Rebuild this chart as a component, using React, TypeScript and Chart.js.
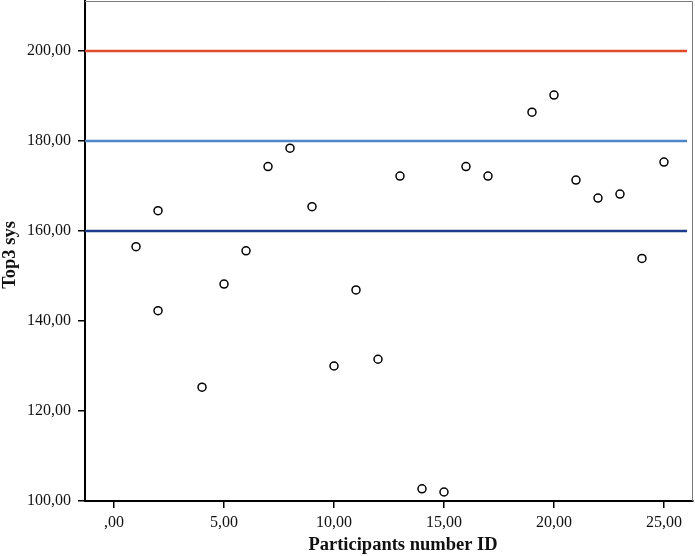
import React, { useEffect, useRef } from "react";
import { Chart, registerables } from "chart.js";

Chart.register(...registerables);

// Participant IDs and their Top3 systolic values
const participantIds = [1, 2, 2, 4, 5, 6, 7, 8, 9, 10, 11, 12, 13, 14, 15, 16, 17, 19, 20, 21, 22, 23, 24, 25];
const top3Sys = [156.5, 164.5, 142.3, 125.3, 148.2, 155.6, 174.3, 178.4, 165.4, 130.0, 146.9, 131.5, 172.2, 102.7, 102.0, 174.3, 172.2, 186.4, 190.2, 171.3, 167.3, 168.2, 153.9, 175.3];

// Reference lines
const refLevels = [200, 180, 160];
const refColors = ["#dd4a2c", "#4f86c9", "#1d3c8c"];

// Axis ticks and titles
const xTickValues = [0, 5, 10, 15, 20, 25];
const yTickValues = [100, 120, 140, 160, 180, 200];
const xTitle = "Participants number ID";
const yTitle = "Top3 sys";

const xMin = -1.32;
const xMax = 26.32;
const refLineEnd = 26.05;
const yMin = 100;
const yMax = 211.1;

const fmt = (v: number) => {
  const s = v.toFixed(2).replace(".", ",");
  return s.startsWith("0,") ? s.slice(1) : s;
};

const FONT = "'Liberation Serif', 'Times New Roman', serif";

export default function App() {
  const ref = useRef<HTMLCanvasElement | null>(null);
  useEffect(() => {
    if (!ref.current) return;
    const framePlugin = {
      id: "frame",
      afterDatasetsDraw(chart: any) {
        const { ctx, chartArea } = chart;
        ctx.save();
        ctx.strokeStyle = "#7a7a7a";
        ctx.lineWidth = 1;
        ctx.beginPath();
        ctx.moveTo(chartArea.left, chartArea.top + 0.5);
        ctx.lineTo(chartArea.right - 0.5, chartArea.top + 0.5);
        ctx.lineTo(chartArea.right - 0.5, chartArea.bottom);
        ctx.stroke();
        // axis titles
        ctx.fillStyle = "#111";
        ctx.font = `bold 18.5px ${FONT}`;
        ctx.textAlign = "center";
        ctx.textBaseline = "middle";
        ctx.fillText(xTitle, (chartArea.left + chartArea.right) / 2 + 14, 545);
        ctx.translate(10, (chartArea.top + chartArea.bottom) / 2 + 4);
        ctx.rotate(-Math.PI / 2);
        ctx.fillText(yTitle, 0, 0);
        ctx.restore();
      },
    };
    const refDatasets = refLevels.map((lvl, i) => ({
      type: "line" as const,
      data: [
        { x: xMin, y: lvl },
        { x: refLineEnd, y: lvl },
      ],
      borderColor: refColors[i],
      borderWidth: 2.5,
      pointRadius: 0,
      fill: false,
      order: 2,
    }));
    const chart = new Chart(ref.current, {
      type: "scatter",
      data: {
        datasets: [
          {
            type: "scatter" as const,
            data: participantIds.map((x, i) => ({ x, y: top3Sys[i] })),
            pointRadius: 4,
            pointBorderWidth: 1.5,
            pointBorderColor: "#000",
            pointBackgroundColor: "#fff",
            order: 1,
          },
          ...refDatasets,
        ] as any,
      },
      options: {
        animation: false,
        responsive: false,
        devicePixelRatio: 1,
        layout: { autoPadding: false, padding: { top: 1, right: 2, left: 0, bottom: 0 } },
        plugins: { legend: { display: false }, tooltip: { enabled: false } },
        scales: {
          x: {
            type: "linear",
            min: xMin,
            max: xMax,
            afterBuildTicks: (s: any) => {
              s.ticks = xTickValues.map((v) => ({ value: v }));
            },
            afterFit: (s: any) => {
              s.height = 55;
              s.paddingLeft = 0;
              s.paddingRight = 0;
            },
            ticks: {
              callback: (v: any) => fmt(Number(v)),
              color: "#111",
              font: { family: FONT, size: 16 },
              padding: 5,
              maxRotation: 0,
            },
            grid: {
              drawOnChartArea: false,
              drawTicks: true,
              tickLength: 7,
              color: "#000",
              lineWidth: 1.5,
            },
            border: { display: true, color: "#000", width: 2 },
          },
          y: {
            type: "linear",
            min: yMin,
            max: yMax,
            afterBuildTicks: (s: any) => {
              s.ticks = yTickValues.map((v) => ({ value: v }));
            },
            afterFit: (s: any) => {
              s.width = 85;
              s.paddingTop = 0;
              s.paddingBottom = 0;
            },
            ticks: {
              callback: (v: any) => fmt(Number(v)),
              color: "#111",
              font: { family: FONT, size: 16 },
              padding: 7,
            },
            grid: {
              drawOnChartArea: false,
              drawTicks: true,
              tickLength: 7,
              color: "#000",
              lineWidth: 1.5,
            },
            border: { display: true, color: "#000", width: 2 },
          },
        },
      },
      plugins: [framePlugin],
    });
    return () => chart.destroy();
  }, []);
  return (
    <div style={{ position: "absolute", left: 0, top: 0, width: 695, height: 556, background: "#fff" }}>
      <canvas ref={ref} width={695} height={556} style={{ display: "block" }} />
    </div>
  );
}
